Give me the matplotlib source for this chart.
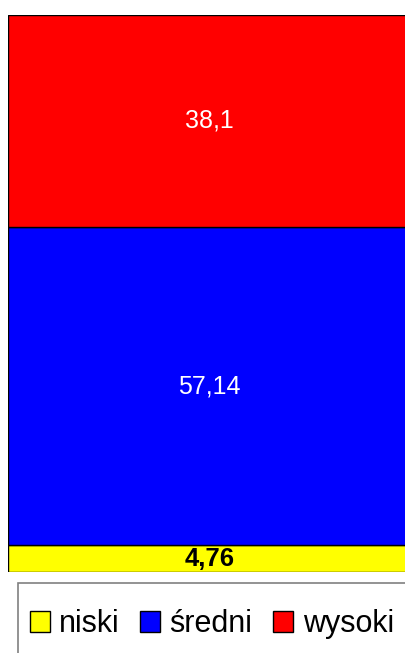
import matplotlib.pyplot as plt
from matplotlib.patches import Rectangle

plt.rcParams['font.family'] = ['Liberation Sans', 'DejaVu Sans']

# data
categories = ['niski', 'średni', 'wysoki']
values = [4.76, 57.14, 38.1]
labels = ['4,76', '57,14', '38,1']
colors = ['#ffff00', '#0000ff', '#ff0000']

W, H = 405, 653
fig = plt.figure(figsize=(W / 100, H / 100), dpi=100)

# axes runs past the right edge like in the original
ax = fig.add_axes([7.5 / W, 1 - 572 / H, 1.2, (572 - 14.5) / H])
ax.set_xlim(0, 1)
ax.set_ylim(0, 100)
ax.axis('off')

bottom = 0
handles = []
for cat, v, lab, c in zip(categories, values, labels, colors):
    b = ax.bar(0, v, bottom=bottom, width=1, align='edge', color=c,
               edgecolor='black', linewidth=1, label=cat)
    handles.append(b)
    if cat == 'niski':
        ax.text(0.415, bottom + v / 2, lab, ha='center', va='center',
                fontsize=18.5, fontweight='bold', color='black')
    else:
        ax.text(0.415, bottom + v / 2, lab, ha='center', va='center',
                fontsize=18, color='white')
    bottom += v

# legend frame
fig.patches.append(Rectangle((18 / W, -0.1), 1.2, 0.1 + 1 - 583 / H,
                             transform=fig.transFigure, facecolor='white',
                             edgecolor='#808080', linewidth=1.2))

fig.legend(handles, categories, loc='center left',
           bbox_to_anchor=(29.5 / W, 1 - 624 / H), frameon=False,
           ncol=3, fontsize=22, handlelength=0.66, handleheight=0.66,
           handletextpad=0.3, columnspacing=0.68, borderpad=0,
           borderaxespad=0)

fig.savefig('out.png', dpi=100)
